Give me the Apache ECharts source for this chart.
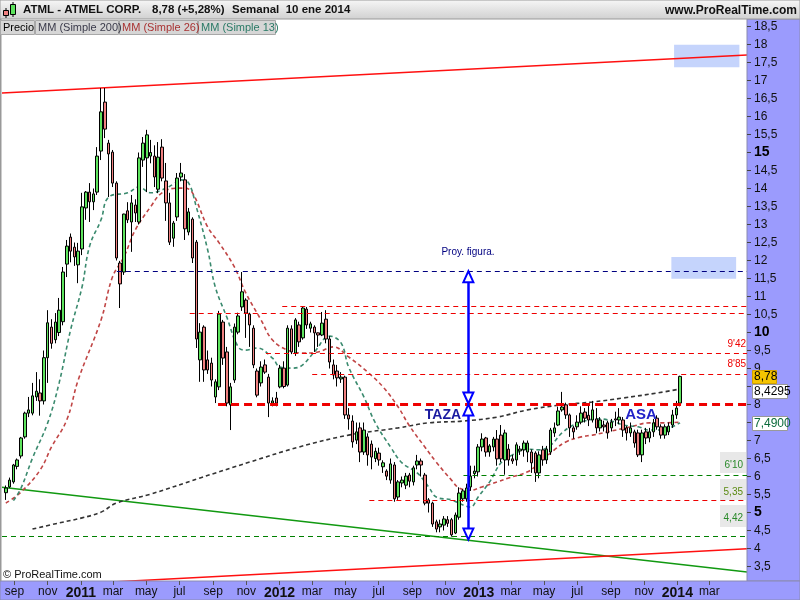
<!DOCTYPE html>
<html><head><meta charset="utf-8">
<script src="https://cdn.jsdelivr.net/npm/echarts@6/dist/echarts.min.js"></script>
<style>html,body{margin:0;padding:0;background:#fff}#c{width:800px;height:600px}</style>
</head><body><div id="c"></div>
<script>
// ---------- DATA ----------
const firstWeek = '2010-08-16';       // weekly candles, one per week
const xRange = ['2010-08-09', '2014-05-09'];
const monthTicks = ['2010-09','2010-11','2011-01','2011-03','2011-05','2011-07','2011-09','2011-11','2012-01','2012-03','2012-05','2012-07','2012-09','2012-11','2013-01','2013-03','2013-05','2013-07','2013-09','2013-11','2014-01','2014-03'];
const monthNames = ['ene','feb','mar','abr','may','jun','jul','ago','sep','oct','nov','dic'];
const yTicks = [3.5,4,4.5,5,5.5,6,6.5,7,7.5,8,8.5,9,9.5,10,10.5,11,11.5,12,12.5,13,13.5,14,14.5,15,15.5,16,16.5,17,17.5,18,18.5];
// [open, close, low, high]
const ohlc = [
[5.55,5.68,5.35,5.75],[5.71,5.90,5.68,5.97],[5.85,6.32,5.80,6.35],[6.28,6.46,6.20,6.50],[6.57,7.07,6.50,7.10],
[7.10,7.76,7.05,7.80],[7.76,7.85,7.65,8.21],[7.76,8.24,7.70,8.60],[8.21,8.37,8.10,8.90],[8.32,8.10,7.69,8.70],
[8.10,9.30,8.00,9.50],[9.30,10.27,8.60,10.62],[10.15,9.70,9.55,10.37],[9.80,10.29,9.70,10.54],[10.00,10.62,9.90,10.96],
[10.30,11.68,10.20,11.82],[11.90,12.40,11.54,12.57],[12.65,12.26,11.95,12.75],[12.37,12.10,11.85,12.50],[11.88,12.26,11.37,12.49],
[12.32,13.49,12.15,13.88],[13.46,13.90,13.13,13.93],[13.90,13.63,13.07,14.15],[13.63,13.85,13.40,14.00],[13.90,14.90,13.82,15.15],
[15.04,16.13,14.79,16.79],[16.40,15.65,15.40,16.79],[15.26,14.96,13.76,15.35],[15.01,14.15,14.04,15.07],[14.15,12.07,12.00,14.20],
[11.93,11.35,10.68,11.99],[11.68,13.29,11.60,13.30],[13.38,13.13,13.04,13.62],[13.07,13.60,12.24,13.82],[13.54,13.32,13.07,13.70],
[13.07,14.85,13.00,15.00],[14.79,15.26,14.60,15.43],[14.85,15.49,13.90,15.63],[14.90,15.00,14.70,15.35],[14.90,14.32,14.04,15.20],
[13.98,14.87,13.87,15.29],[15.15,14.29,14.20,15.37],[14.21,13.60,13.10,14.71],[13.60,12.51,12.43,13.88],[12.62,13.04,12.38,13.10],
[13.21,14.29,13.10,14.43],[14.32,14.43,14.20,14.71],[14.24,12.88,12.57,14.40],[12.79,13.35,12.70,13.46],[13.15,12.07,11.93,13.20],
[12.51,9.82,9.57,12.57],[9.24,10.01,8.63,10.26],[10.15,8.96,8.63,10.20],[9.24,8.96,8.85,9.50],[9.15,8.68,8.50,9.30],
[8.21,8.63,8.04,8.70],[8.49,10.51,8.40,10.60],[10.29,9.29,9.10,10.35],[9.46,8.04,7.95,9.60],[7.99,8.49,7.29,8.60],
[8.68,10.15,8.60,10.25],[10.01,10.46,9.95,10.55],[10.71,11.13,10.60,11.68],[10.90,10.54,9.85,10.95],[10.51,10.21,9.60,10.55],
[10.12,9.10,9.01,10.20],[8.93,8.26,8.20,9.00],[8.60,9.04,8.50,9.20],[9.10,8.90,8.85,9.25],[8.76,8.04,7.65,8.85],
[8.04,8.10,7.95,8.20],[8.18,8.04,7.95,8.35],[8.49,9.01,8.45,9.10],[9.01,8.50,8.45,9.20],[8.54,10.12,8.50,10.20],
[10.10,9.46,9.40,10.20],[9.43,10.35,9.35,10.40],[10.21,9.74,9.60,10.30],[9.85,10.68,9.80,10.71],[10.65,10.21,10.10,10.71],
[10.12,10.24,10.00,10.30],[10.15,9.99,9.46,10.20],[9.99,9.93,9.60,10.00],[9.93,10.26,9.90,10.57],[10.37,9.82,9.70,10.62],
[9.82,9.18,9.00,9.90],[9.10,8.82,8.70,9.25],[8.93,8.74,8.50,9.10],[8.71,8.76,8.60,8.90],[8.76,7.71,7.60,8.80],
[7.71,7.60,7.30,7.90],[7.54,6.96,6.80,7.70],[7.01,7.24,6.90,7.50],[7.35,6.68,6.40,7.50],[6.68,7.29,6.60,7.50],
[7.10,6.60,6.30,7.20],[6.90,6.54,6.20,7.00],[6.50,6.70,6.40,6.80],[6.65,6.46,6.30,6.80],[6.27,6.38,6.10,6.45],
[6.15,6.01,5.90,6.20],[5.90,6.35,5.80,6.50],[6.32,5.38,5.30,6.40],[5.43,5.85,5.35,5.90],[5.82,5.90,5.70,6.00],
[5.76,6.01,5.65,6.10],[6.04,5.87,5.70,6.10],[5.85,6.24,5.75,6.30],[6.32,6.43,6.20,6.60],[6.43,6.32,6.00,6.50],
[6.04,5.26,5.20,6.10],[5.35,5.26,5.00,5.40],[5.26,4.68,4.60,5.30],[4.74,4.54,4.45,4.80],[4.60,4.68,4.45,4.80],
[4.65,4.82,4.50,4.90],[4.80,4.70,4.60,4.90],[4.80,4.38,4.33,4.85],[4.43,4.93,4.40,5.00],[4.87,5.54,4.80,5.70],
[5.38,5.60,5.30,5.65],[5.38,5.68,5.30,5.80],[5.71,6.01,5.60,6.30],[6.08,6.15,5.95,6.30],[6.13,6.82,6.00,6.90],
[6.82,7.04,6.70,7.20],[7.07,6.68,6.55,7.10],[6.68,6.85,6.55,6.90],[6.82,7.04,6.70,7.10],[7.04,6.49,6.30,7.29],
[7.15,6.49,6.40,7.43],[6.46,7.21,6.05,7.30],[6.76,6.46,6.30,6.90],[6.49,6.43,6.35,6.60],[6.46,6.88,6.30,6.95],
[6.71,6.76,6.60,6.85],[6.74,6.93,6.55,7.00],[6.68,6.93,6.40,7.00],[6.68,6.38,6.10,6.75],[6.65,6.10,5.85,6.70],
[6.10,6.60,5.95,6.70],[6.74,6.46,6.30,6.85],[6.46,6.76,6.35,6.85],[6.68,7.29,6.60,7.35],[7.21,7.35,7.10,7.50],
[7.43,7.82,7.40,7.94],[7.85,7.93,7.80,8.35],[7.99,7.71,7.60,8.05],[7.71,7.35,7.10,7.75],[7.35,7.24,7.05,7.40],
[7.38,7.51,7.30,7.70],[7.51,7.76,7.45,7.95],[7.79,7.62,7.50,7.90],[7.70,7.57,7.40,8.00],[7.57,7.85,7.50,8.10],
[7.60,7.35,7.20,7.90],[7.35,7.57,7.25,7.65],[7.43,7.38,7.25,7.55],[7.49,7.21,7.05,7.55],[7.35,7.51,7.25,7.60],
[7.60,7.57,7.40,7.80],[7.57,7.65,7.45,7.90],[7.57,7.29,7.10,7.65],[7.35,7.21,7.00,7.40],[7.21,7.35,7.10,7.50],
[7.24,6.93,6.80,7.30],[7.21,6.60,6.54,7.30],[6.60,7.21,6.40,7.30],[7.24,7.07,6.90,7.35],[7.07,7.24,6.95,7.35],
[7.24,7.49,7.10,7.60],[7.62,7.38,7.30,7.70],[7.38,7.15,7.05,7.45],[7.15,7.38,7.05,7.45],[7.24,7.40,7.15,7.50],
[7.43,7.71,7.35,7.85],[7.71,7.90,7.60,8.10],[8.04,8.78,7.95,8.80]
];
// moving averages read at candle indices: [candleIndex, value]
const ma13 = [[2,5.33],[4,5.68],[7,6.51],[11,7.49],[14,8.6],[17,10.07],[20,11.26],[22,12.4],[25,13.13],[27,13.76],[32,13.88],[35,14.04],[38,13.88],[41,13.96],[44,14.12],[46,14.24],[48,14.15],[50,13.49],[53,12.29],[55,11.26],[58,10.43],[61,9.6],[63,9.51],[66,9.57],[70,9.29],[72,9.04],[75,9.01],[77,9.04],[81,9.46],[85,9.9],[88,9.71],[90,9.04],[94,8.21],[97,7.49],[101,6.82],[104,6.38],[108,6.1],[111,5.71],[113,5.43],[117,5.35],[120,5.21],[122,5.15],[124,5.43],[127,5.85],[130,6.38],[133,6.6],[137,6.76],[140,6.74],[143,6.87],[146,7.21],[149,7.43],[153,7.57],[156,7.6],[160,7.51],[162,7.43],[166,7.38],[169,7.29],[173,7.29],[175,7.38],[177,7.49]];
const ma26 = [[0,5.26],[4,5.57],[9,6.18],[12,6.82],[16,7.57],[19,8.68],[25,10.35],[28,11.54],[31,12.1],[34,12.85],[38,13.49],[41,13.88],[45,14.01],[47,14.01],[49,13.88],[53,12.93],[56,12.49],[60,11.82],[63,11.1],[67,10.35],[70,9.79],[74,9.51],[78,9.43],[82,9.46],[86,9.6],[90,9.32],[95,8.9],[99,8.49],[103,7.93],[106,7.4],[110,6.82],[113,6.4],[117,5.9],[119,5.68],[122,5.62],[125,5.71],[129,5.85],[132,5.96],[137,6.13],[140,6.38],[144,6.74],[147,6.96],[151,7.1],[154,7.15],[158,7.24],[164,7.38],[169,7.49],[173,7.49],[177,7.51]];
const ma200 = [[7,4.54],[14,4.71],[20,4.85],[25,5.01],[29,5.26],[38,5.51],[51,5.96],[64,6.4],[77,6.82],[90,7.15],[103,7.35],[111,7.49],[120,7.54],[129,7.65],[137,7.85],[146,7.99],[154,8.07],[162,8.18],[171,8.32],[177,8.43]];
// trend lines [date, price]
const trendTop = [['2010-08-09',16.65],['2014-05-09',17.71]];
const trendGreen = [['2010-08-09',5.70],['2014-05-09',3.35]];
const trendBottom = [['2010-08-09',2.91],['2014-05-09',3.99]];
// horizontal levels [startDate, price]
const navyLevels = [['2011-03-08',11.71]];
const redLevels = [['2011-07-20',10.53],['2012-01-06',10.72],['2011-12-07',9.42],['2012-03-01',8.85],['2012-06-14',5.35]];
const redThickLevels = [['2011-09-10',8.01]];
const greenLevels = [['2012-12-04',6.04],['2010-08-09',4.34]];
// projection arrows [date, fromPrice, toPrice]
const projection = [['2012-12-13',11.55,8.18],['2012-12-13',7.85,4.40]];
// highlighted zones [[startDate, top],[endDate, bottom]]
const zones = [[['2013-12-26',17.99],['2014-04-25',17.37]],[['2013-12-21',12.10],['2014-04-19',11.49]]];
const lastValues = {price:'8,78', ma200:'8,4295', ma13:'7,4900'};

// ---------- BUILD ----------
function d(s){const p=s.split('-').map(Number);return new Date(p[0],p[1]-1,p[2]||1).getTime();}
const WEEK = 7*86400000;
const t0 = d(firstWeek);
const weekTs = ohlc.map((r,i)=>t0+i*WEEK);
const candleData = ohlc.map((r,i)=>[weekTs[i], r[0], r[1], r[2], r[3]]);
const maData = arr => arr.map(p=>[weekTs[p[0]], p[1]]);
const xMin = d(xRange[0]), xMax = d(xRange[1]);
const monthTs = monthTicks.map(d);
const F = '"Liberation Sans", Arial, sans-serif';

const mlData = [];
navyLevels.forEach(l=>mlData.push([{coord:[d(l[0]),l[1]],lineStyle:{color:'#000080',width:1,type:[5,4]}},{coord:[xMax,l[1]]}]));
redLevels.forEach(l=>mlData.push([{coord:[d(l[0]),l[1]],lineStyle:{color:'#ee0000',width:1,type:[5,4]}},{coord:[xMax,l[1]]}]));
redThickLevels.forEach(l=>mlData.push([{coord:[d(l[0]),l[1]],lineStyle:{color:'#ee0000',width:3,type:[8,5]}},{coord:[xMax,l[1]]}]));
greenLevels.forEach(l=>mlData.push([{coord:[d(l[0]),l[1]],lineStyle:{color:'#008000',width:1,type:[5,4]}},{coord:[xMax,l[1]]}]));
projection.forEach(p=>mlData.push([
  {coord:[d(p[0]),p[1]],symbol:'emptyTriangle',symbolSize:[10,11],lineStyle:{color:'#0000ff',width:2.5,type:'solid'}},
  {coord:[d(p[0]),p[2]],symbol:'emptyTriangle',symbolSize:[10,11]}]));

const trendSeries = (data,color)=>({type:'line',data:data.map(p=>[d(p[0]),p[1]]),symbol:'none',silent:true,
  lineStyle:{color:color,width:1.5},clip:true,z:3,animation:false});
const maSeries = (name,data,color)=>({name:name,type:'line',data:maData(data),symbol:'none',smooth:0.4,silent:true,
  lineStyle:{color:color,width:1.6,type:[4,3]},z:3,animation:false});

function txt(text,x,y,font,fill,align,valign,z){return {type:'text',z:z||30,style:{text:text,x:x,y:y,font:font,fill:fill,align:align||'left',verticalAlign:valign||'middle'}};}
function rect(x,y,w,h,fill,stroke,z){return {type:'rect',z:z||30,shape:{x:x,y:y,width:w,height:h},style:{fill:fill,stroke:stroke||null,lineWidth:1}};}

const graphics = [
  rect(747,19,53,562,'#9b9bfd','#8a8ab0',5),
  rect(0,581,800,19,'#9b9bfd','#8a8ab0',5),
  {type:'line',z:6,shape:{x1:0.5,y1:19,x2:0.5,y2:581},style:{stroke:'#999',lineWidth:2}},
  {type:'rect',z:30,shape:{x:0,y:0,width:800,height:19},style:{fill:new echarts.graphic.LinearGradient(0,0,0,1,[{offset:0,color:'#f7f7f7'},{offset:1,color:'#d0d0d0'}]),stroke:'#9a9a9a'}},
  {type:'line',z:31,shape:{x1:6,y1:8,x2:6,y2:18},style:{stroke:'#000',lineWidth:1}},
  rect(3.5,10.5,5,5,'#f08080','#000',32),
  {type:'line',z:31,shape:{x1:13,y1:2,x2:13,y2:17},style:{stroke:'#000',lineWidth:1}},
  rect(10.5,4.5,5,10,'#5de35d','#000',32),
  txt('ATML - ATMEL CORP.',23,10,'bold 11.5px '+F,'#111'),
  txt('8,78 (+5,28%)',152,10,'bold 11.5px '+F,'#111'),
  txt('Semanal  10 ene 2014',232,10,'bold 11.5px '+F,'#111'),
  txt('www.ProRealTime.com',797,11,'bold 12px '+F,'#111','right'),
  rect(0.5,20.5,34,14,'#d6d6d6','#a8a8a8'),
  rect(35.5,20.5,83,14,'#d6d6d6','#a8a8a8'),
  rect(119.5,20.5,78,14,'#d6d6d6','#a8a8a8'),
  rect(198.5,20.5,77,14,'#d6d6d6','#a8a8a8'),
  txt('Precio',3,28,'11px '+F,'#000'),
  txt('MM (Simple 200)',38,28,'11px '+F,'#3a3a4a'),
  txt('MM (Simple 26)',122,28,'11px '+F,'#a83232'),
  txt('MM (Simple 13)',201,28,'11px '+F,'#2a7a66'),
  txt('© ProRealTime.com',3,575,'11px '+F,'#111'),
  txt('Proy. figura.',468,252,'10px '+F,'#000080','center',null,12),
  txt('TAZA',443,415,'bold 14px '+F,'#1a1aa0','center',null,12),
  txt('ASA',641,415,'bold 15px '+F,'#2222c8','center',null,12),
  txt("9'42",746,344,'10px '+F,'#ee0000','right',null,12),
  txt("8'85",746,364,'10px '+F,'#ee0000','right',null,12),
  rect(720,452,26,21,'#e8e8e8',null,12), txt("6'10",743,465,'10px '+F,'#2a8a2a','right',null,13),
  rect(720,479,26,21,'#e8e8e8',null,12), txt('5,35',743,492,'10px '+F,'#5a8a10','right',null,13),
  rect(720,505,26,22,'#e8e8e8',null,12), txt('4,42',743,518,'10px '+F,'#2a8a2a','right',null,13),
  rect(752.5,370.5,24,13,'#f5c400','#d0a000',20), txt(lastValues.price,754,377,'12px '+F,'#000','left',null,21),
  rect(752.5,384.5,35,14,'#ffffff','#999',20), txt(lastValues.ma200,754,392,'12px '+F,'#000','left',null,21),
  rect(752.5,416.5,35,14,'#ffffff','#999',20), txt(lastValues.ma13,754,424,'12px '+F,'#0a6a3a','left',null,21)
];

const option = {
  animation:false,
  backgroundColor:'#ffffff',
  grid:{left:2,right:53,top:8.5,bottom:15.5,containLabel:false},
  xAxis:{type:'value',min:xMin,max:xMax,offset:-3.5,z:10,scale:true,
    axisLine:{show:false},splitLine:{show:false},
    axisTick:{show:true,customValues:monthTs,length:4,lineStyle:{color:'#555'}},
    axisLabel:{customValues:monthTs,margin:5,color:'#111',fontSize:12,fontFamily:F,hideOverlap:false,
      formatter:function(v){const dt=new Date(v);const m=dt.getMonth();return m===0?'{y|'+dt.getFullYear()+'}':monthNames[m];},
      rich:{y:{fontWeight:'bold',fontSize:14,color:'#111',fontFamily:F}}}},
  yAxis:{type:'value',position:'right',min:3,max:19,interval:0.5,z:10,scale:false,
    axisLine:{show:false},splitLine:{show:false},
    axisTick:{show:true,customValues:yTicks,length:4,lineStyle:{color:'#444'}},
    axisLabel:{customValues:yTicks,margin:7,color:'#111',fontSize:12,fontFamily:F,
      formatter:function(v){return (v%5===0)?'{b|'+v+'}':String(v).replace('.',',');},
      rich:{b:{fontWeight:'bold',fontSize:14,color:'#000',fontFamily:F}}}},
  series:[
    trendSeries(trendTop,'#ff1010'),
    trendSeries(trendGreen,'#119911'),
    trendSeries(trendBottom,'#ff1010'),
    {name:'Precio',type:'candlestick',data:candleData,encode:{x:0,y:[1,2,3,4]},barWidth:3,z:4,
      itemStyle:{color:'#5de35d',color0:'#f08080',borderColor:'#000',borderColor0:'#000',borderWidth:1},
      markLine:{silent:true,symbol:'none',label:{show:false},animation:false,data:mlData},
      markArea:{silent:true,itemStyle:{color:'rgba(140,170,250,0.5)'},data:zones.map(z=>[{coord:[d(z[0][0]),z[0][1]]},{coord:[d(z[1][0]),z[1][1]]}])}},
    maSeries('MM200',ma200,'#333333'),
    maSeries('MM26',ma26,'#c04545'),
    maSeries('MM13',ma13,'#3a8a6e')
  ],
  graphic:graphics
};
const chart = echarts.init(document.getElementById('c'));
chart.setOption(option);
</script></body></html>
